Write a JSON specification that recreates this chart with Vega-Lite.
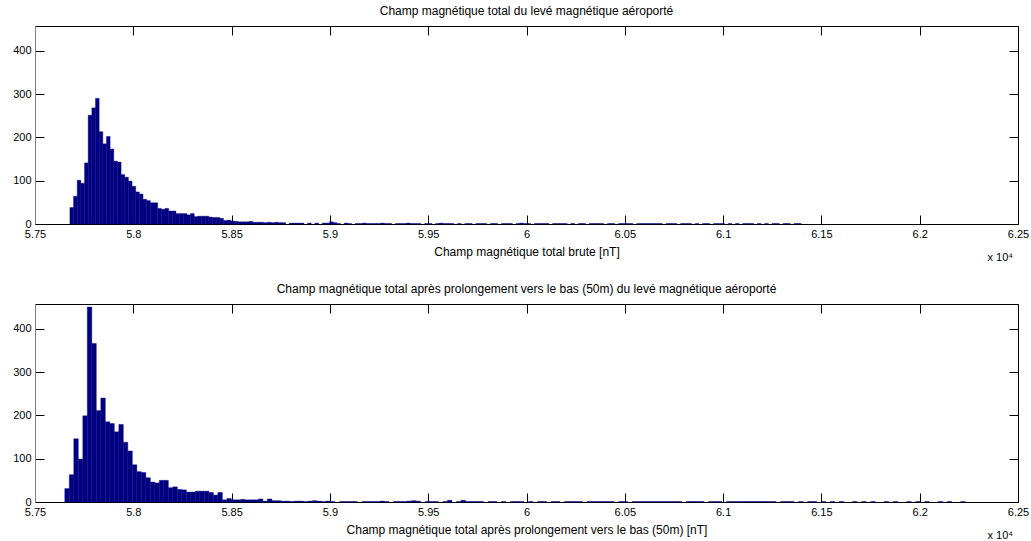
{
  "$schema": "https://vega.github.io/schema/vega-lite/v6.json",
  "padding": {"left": 5, "top": 4, "right": 8, "bottom": 2},
  "background": "white",
  "config": {
    "font": "Liberation Sans",
    "view": {"stroke": null},
    "title": {"fontSize": 12, "fontWeight": "normal", "color": "black", "offset": 8, "font": "Liberation Sans"},
    "axis": {
      "grid": false,
      "labelFont": "Liberation Sans",
      "titleFont": "Liberation Sans",
      "labelFontSize": 11,
      "titleFontSize": 12,
      "titleFontWeight": "normal",
      "labelColor": "black",
      "titleColor": "black",
      "domainColor": "black",
      "tickColor": "black",
      "labelFlush": false,
      "labelOverlap": false,
      "zindex": 1
    }
  },
  "datasets": {
    "brute": [
      {"lo":57675,"n":38},{"lo":57693.6,"n":64},{"lo":57712.2,"n":101},{"lo":57730.8,"n":94},{"lo":57749.4,"n":141},{"lo":57768,"n":251},{"lo":57786.6,"n":268},{"lo":57805.2,"n":290},{"lo":57823.8,"n":213},{"lo":57842.4,"n":185},
      {"lo":57861,"n":202},{"lo":57879.6,"n":173},{"lo":57898.2,"n":145},{"lo":57916.8,"n":143},{"lo":57935.4,"n":114},{"lo":57954,"n":108},{"lo":57972.6,"n":99},{"lo":57991.2,"n":87},{"lo":58009.8,"n":74},{"lo":58028.4,"n":69},
      {"lo":58047,"n":57},{"lo":58065.6,"n":54},{"lo":58084.2,"n":49},{"lo":58102.8,"n":49},{"lo":58121.4,"n":36},{"lo":58140,"n":34},{"lo":58158.6,"n":36},{"lo":58177.2,"n":30},{"lo":58195.8,"n":30},{"lo":58214.4,"n":24},
      {"lo":58233,"n":24},{"lo":58251.6,"n":24},{"lo":58270.2,"n":21},{"lo":58288.8,"n":24},{"lo":58307.4,"n":17},{"lo":58326,"n":18},{"lo":58344.6,"n":18},{"lo":58363.2,"n":18},{"lo":58381.8,"n":16},{"lo":58400.4,"n":15},
      {"lo":58419,"n":15},{"lo":58437.6,"n":13},{"lo":58456.2,"n":8},{"lo":58474.8,"n":9},{"lo":58493.4,"n":7},{"lo":58512,"n":6},{"lo":58530.6,"n":5},{"lo":58549.2,"n":5},{"lo":58567.8,"n":5},{"lo":58586.4,"n":6},
      {"lo":58605,"n":4},{"lo":58623.6,"n":4},{"lo":58642.2,"n":4},{"lo":58660.8,"n":3},{"lo":58679.4,"n":4},{"lo":58698,"n":3},{"lo":58716.6,"n":4},{"lo":58735.2,"n":3},{"lo":58753.8,"n":3},
      {"lo":58791,"n":2},{"lo":58809.6,"n":2},{"lo":58828.2,"n":2},{"lo":58846.8,"n":2},{"lo":58884,"n":2},{"lo":58921.2,"n":2},{"lo":58958.4,"n":2},
      {"lo":58977,"n":2},{"lo":58995.6,"n":5},{"lo":59014.2,"n":3},{"lo":59032.8,"n":1},{"lo":59070,"n":2},{"lo":59088.6,"n":1},{"lo":59125.8,"n":1},{"lo":59144.4,"n":1},
      {"lo":59163,"n":2},{"lo":59181.6,"n":1},{"lo":59200.2,"n":1},{"lo":59218.8,"n":1},{"lo":59237.4,"n":1},{"lo":59256,"n":2},{"lo":59274.6,"n":1},{"lo":59293.2,"n":1},{"lo":59330.4,"n":1},
      {"lo":59349,"n":1},{"lo":59367.6,"n":1},{"lo":59386.2,"n":2},{"lo":59404.8,"n":1},{"lo":59423.4,"n":1},{"lo":59442,"n":1},{"lo":59479.2,"n":1},{"lo":59497.8,"n":1},
      {"lo":59535,"n":1},{"lo":59553.6,"n":2},{"lo":59572.2,"n":1},{"lo":59590.8,"n":1},{"lo":59609.4,"n":1},{"lo":59646.6,"n":1},{"lo":59683.8,"n":1},{"lo":59702.4,"n":1},
      {"lo":59739.6,"n":1},{"lo":59758.2,"n":1},{"lo":59776.8,"n":1},{"lo":59814,"n":1},{"lo":59832.6,"n":1},{"lo":59869.8,"n":1},{"lo":59888.4,"n":1},
      {"lo":59907,"n":1},{"lo":59944.2,"n":1},{"lo":59962.8,"n":2},{"lo":59981.4,"n":1},{"lo":60000,"n":1},{"lo":60037.2,"n":1},{"lo":60055.8,"n":1},{"lo":60074.4,"n":1},
      {"lo":60093,"n":1},{"lo":60130.2,"n":1},{"lo":60148.8,"n":1},{"lo":60167.4,"n":1},{"lo":60186,"n":1},{"lo":60223.2,"n":1},{"lo":60260.4,"n":1},
      {"lo":60279,"n":1},{"lo":60316.2,"n":1},{"lo":60334.8,"n":1},{"lo":60353.4,"n":1},{"lo":60372,"n":1},{"lo":60409.2,"n":1},{"lo":60427.8,"n":1},
      {"lo":60465,"n":1},{"lo":60483.6,"n":1},{"lo":60502.2,"n":1},{"lo":60520.8,"n":1},{"lo":60558,"n":1},{"lo":60576.6,"n":1},{"lo":60595.2,"n":1},{"lo":60613.8,"n":1},{"lo":60632.4,"n":1},
      {"lo":60651,"n":1},{"lo":60669.6,"n":1},{"lo":60706.8,"n":1},{"lo":60725.4,"n":1},{"lo":60744,"n":1},{"lo":60781.2,"n":1},{"lo":60799.8,"n":1},{"lo":60818.4,"n":1},
      {"lo":60855.6,"n":1},{"lo":60892.8,"n":1},{"lo":60911.4,"n":1},{"lo":60948.6,"n":1},{"lo":60967.2,"n":1},{"lo":60985.8,"n":1},
      {"lo":61023,"n":1},{"lo":61060.2,"n":1},{"lo":61097.4,"n":1},{"lo":61116,"n":1},{"lo":61134.6,"n":1},{"lo":61171.8,"n":1},
      {"lo":61209,"n":1},{"lo":61246.2,"n":1},{"lo":61264.8,"n":1},{"lo":61302,"n":1},{"lo":61320.6,"n":1},{"lo":61357.8,"n":1},{"lo":61376.4,"n":1}
    ],
    "prolonge": [
      {"lo":57649,"n":31},{"lo":57671.9,"n":63},{"lo":57694.8,"n":146},{"lo":57717.7,"n":99},{"lo":57740.6,"n":199},{"lo":57763.5,"n":450},{"lo":57786.4,"n":366},{"lo":57809.3,"n":211},{"lo":57832.2,"n":240},{"lo":57855.1,"n":185},
      {"lo":57878,"n":181},{"lo":57900.9,"n":162},{"lo":57923.8,"n":179},{"lo":57946.7,"n":138},{"lo":57969.6,"n":118},{"lo":57992.5,"n":86},{"lo":58015.4,"n":70},{"lo":58038.3,"n":68},{"lo":58061.2,"n":56},{"lo":58084.1,"n":46},
      {"lo":58107,"n":44},{"lo":58129.9,"n":50},{"lo":58152.8,"n":50},{"lo":58175.7,"n":33},{"lo":58198.6,"n":35},{"lo":58221.5,"n":29},{"lo":58244.4,"n":28},{"lo":58267.3,"n":23},{"lo":58290.2,"n":23},{"lo":58313.1,"n":25},
      {"lo":58336,"n":25},{"lo":58358.9,"n":25},{"lo":58381.8,"n":22},{"lo":58404.7,"n":16},{"lo":58427.6,"n":22},{"lo":58450.5,"n":5},{"lo":58473.4,"n":8},{"lo":58496.3,"n":5},{"lo":58519.2,"n":5},{"lo":58542.1,"n":6},
      {"lo":58565,"n":5},{"lo":58587.9,"n":5},{"lo":58610.8,"n":5},{"lo":58633.7,"n":7},{"lo":58656.6,"n":2},{"lo":58679.5,"n":7},{"lo":58702.4,"n":3},{"lo":58725.3,"n":3},{"lo":58748.2,"n":2},{"lo":58771.1,"n":2},
      {"lo":58794,"n":1},{"lo":58816.9,"n":2},{"lo":58839.8,"n":2},{"lo":58862.7,"n":1},{"lo":58885.6,"n":2},{"lo":58908.5,"n":3},{"lo":58931.4,"n":2},{"lo":58954.3,"n":1},{"lo":58977.2,"n":2},{"lo":59000.1,"n":1},
      {"lo":59045.9,"n":1},{"lo":59068.8,"n":1},{"lo":59091.7,"n":1},{"lo":59114.6,"n":1},{"lo":59160.4,"n":1},{"lo":59183.3,"n":1},{"lo":59206.2,"n":1},{"lo":59229.1,"n":1},
      {"lo":59252,"n":2},{"lo":59274.9,"n":1},{"lo":59320.7,"n":1},{"lo":59343.6,"n":1},{"lo":59366.5,"n":1},{"lo":59389.4,"n":2},{"lo":59412.3,"n":3},{"lo":59435.2,"n":2},
      {"lo":59481,"n":1},{"lo":59503.9,"n":1},{"lo":59526.8,"n":1},{"lo":59572.6,"n":1},{"lo":59595.5,"n":4},{"lo":59641.3,"n":1},{"lo":59664.2,"n":4},{"lo":59687.1,"n":1},
      {"lo":59710,"n":1},{"lo":59732.9,"n":1},{"lo":59755.8,"n":1},{"lo":59801.6,"n":1},{"lo":59824.5,"n":1},{"lo":59870.3,"n":1},{"lo":59916.1,"n":1},
      {"lo":59939,"n":1},{"lo":59961.9,"n":1},{"lo":60007.7,"n":1},{"lo":60053.5,"n":1},{"lo":60076.4,"n":1},{"lo":60122.2,"n":1},{"lo":60145.1,"n":1},
      {"lo":60190.9,"n":1},{"lo":60213.8,"n":1},{"lo":60236.7,"n":1},{"lo":60259.6,"n":1},{"lo":60305.4,"n":1},{"lo":60328.3,"n":1},{"lo":60351.2,"n":1},{"lo":60374.1,"n":1},
      {"lo":60397,"n":1},{"lo":60419.9,"n":1},{"lo":60465.7,"n":1},{"lo":60488.6,"n":1},{"lo":60534.4,"n":1},{"lo":60557.3,"n":1},{"lo":60580.2,"n":1},{"lo":60603.1,"n":1},
      {"lo":60626,"n":1},{"lo":60648.9,"n":1},{"lo":60671.8,"n":1},{"lo":60694.7,"n":1},{"lo":60717.6,"n":1},{"lo":60740.5,"n":1},{"lo":60763.4,"n":1},{"lo":60809.2,"n":1},{"lo":60832.1,"n":1},
      {"lo":60855,"n":1},{"lo":60877.9,"n":1},{"lo":60923.7,"n":1},{"lo":60946.6,"n":1},{"lo":60969.5,"n":1},{"lo":61015.3,"n":1},{"lo":61038.2,"n":1},{"lo":61061.1,"n":1},
      {"lo":61084,"n":1},{"lo":61106.9,"n":1},{"lo":61129.8,"n":1},{"lo":61152.7,"n":1},{"lo":61175.6,"n":1},{"lo":61198.5,"n":1},{"lo":61221.4,"n":1},{"lo":61244.3,"n":1},{"lo":61290.1,"n":1},
      {"lo":61313,"n":1},{"lo":61335.9,"n":1},{"lo":61381.7,"n":1},{"lo":61427.5,"n":1},{"lo":61450.4,"n":1},{"lo":61496.2,"n":1},
      {"lo":61542,"n":1},{"lo":61587.8,"n":1},{"lo":61656.5,"n":1},{"lo":61702.3,"n":1},{"lo":61748.1,"n":1},
      {"lo":61816.8,"n":1},{"lo":61862.6,"n":1},{"lo":61931.3,"n":1},{"lo":61977.1,"n":1},
      {"lo":62022.9,"n":1},{"lo":62091.6,"n":1},{"lo":62137.4,"n":1},{"lo":62206.1,"n":1}
    ],
    "exposant": [{"label": "x 10⁴", "x": 62410, "y": -78}]
  },
  "vconcat": [
    {
      "width": 983,
      "height": 198,
      "title": "Champ magnétique total du levé magnétique aéroporté",
      "layer": [
        {
          "data": {"name": "brute"},
          "mark": {"type": "bar", "color": "#000080", "stroke": "#000080", "strokeWidth": 0.4, "binSpacing": 0},
          "encoding": {
            "x": {
              "field": "lo", "type": "quantitative",
              "bin": {"binned": true, "step": 18.6},
              "scale": {"domain": [57500, 62500], "nice": false, "zero": false},
              "axis": {
                "orient": "bottom",
                "values": [57500, 58000, 58500, 59000, 59500, 60000, 60500, 61000, 61500, 62000, 62500],
                "labelExpr": "format(datum.value / 10000, '~g')",
                "tickSize": -9, "labelPadding": 13, "titlePadding": 7,
                "title": "Champ magnétique total brute [nT]"
              }
            },
            "y": {
              "field": "n", "type": "quantitative",
              "scale": {"domain": [0, 457], "nice": false},
              "axis": {
                "orient": "left", "values": [0, 100, 200, 300, 400],
                "tickSize": -9, "labelPadding": 13, "title": null,
                "domainColor": "#808080", "minExtent": 30, "maxExtent": 30
              }
            }
          }
        },
        {
          "data": {"name": "exposant"},
          "mark": {"type": "text", "fontSize": 11, "color": "black"},
          "encoding": {
            "text": {"field": "label"},
            "x": {
              "field": "x", "type": "quantitative",
              "axis": {
                "orient": "top",
                "values": [57500, 58000, 58500, 59000, 59500, 60000, 60500, 61000, 61500, 62000, 62500],
                "labels": false, "tickSize": -9, "title": null, "minExtent": 0, "maxExtent": 0
              }
            },
            "y": {
              "field": "y", "type": "quantitative",
              "axis": {
                "orient": "right", "values": [0, 100, 200, 300, 400],
                "labels": false, "tickSize": -9, "title": null, "minExtent": 0, "maxExtent": 0
              }
            }
          }
        }
      ]
    },
    {
      "width": 983,
      "height": 198,
      "title": "Champ magnétique total après prolongement vers le bas (50m) du levé magnétique aéroporté",
      "layer": [
        {
          "data": {"name": "prolonge"},
          "mark": {"type": "bar", "color": "#000080", "stroke": "#000080", "strokeWidth": 0.4, "binSpacing": 0},
          "encoding": {
            "x": {
              "field": "lo", "type": "quantitative",
              "bin": {"binned": true, "step": 22.9},
              "scale": {"domain": [57500, 62500], "nice": false, "zero": false},
              "axis": {
                "orient": "bottom",
                "values": [57500, 58000, 58500, 59000, 59500, 60000, 60500, 61000, 61500, 62000, 62500],
                "labelExpr": "format(datum.value / 10000, '~g')",
                "tickSize": -9, "labelPadding": 13, "titlePadding": 7,
                "title": "Champ magnétique total après prolongement vers le bas (50m) [nT]"
              }
            },
            "y": {
              "field": "n", "type": "quantitative",
              "scale": {"domain": [0, 457], "nice": false},
              "axis": {
                "orient": "left", "values": [0, 100, 200, 300, 400],
                "tickSize": -9, "labelPadding": 13, "title": null,
                "domainColor": "#808080", "minExtent": 30, "maxExtent": 30
              }
            }
          }
        },
        {
          "data": {"name": "exposant"},
          "mark": {"type": "text", "fontSize": 11, "color": "black"},
          "encoding": {
            "text": {"field": "label"},
            "x": {
              "field": "x", "type": "quantitative",
              "axis": {
                "orient": "top",
                "values": [57500, 58000, 58500, 59000, 59500, 60000, 60500, 61000, 61500, 62000, 62500],
                "labels": false, "tickSize": -9, "title": null, "minExtent": 0, "maxExtent": 0
              }
            },
            "y": {
              "field": "y", "type": "quantitative",
              "axis": {
                "orient": "right", "values": [0, 100, 200, 300, 400],
                "labels": false, "tickSize": -9, "title": null, "minExtent": 0, "maxExtent": 0
              }
            }
          }
        }
      ]
    }
  ],
  "spacing": 19
}
